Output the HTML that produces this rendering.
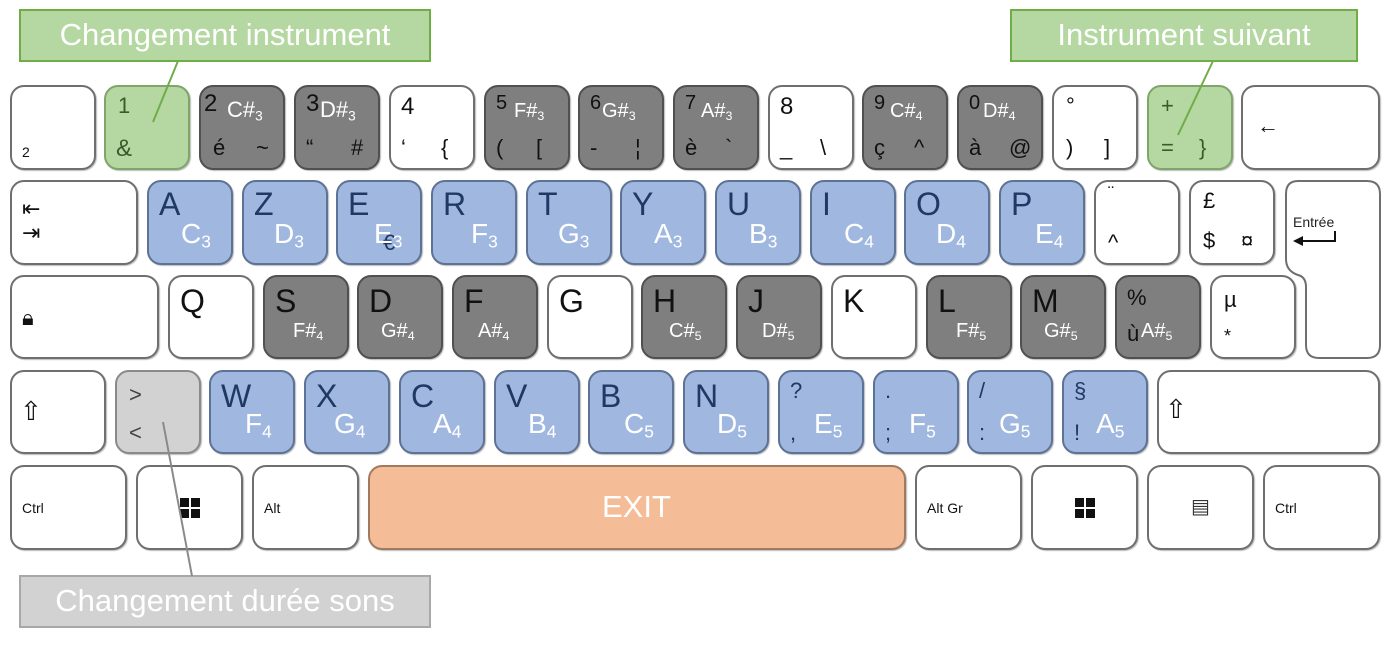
<!DOCTYPE html>
<html><head><meta charset="utf-8"><style>
body{margin:0;width:1390px;height:646px;background:#fff;position:relative;overflow:hidden;font-family:"Liberation Sans","DejaVu Sans",sans-serif}
.k{position:absolute;box-sizing:border-box;border:2px solid #6f6f6f;border-radius:14px;background:#fff;box-shadow:1px 1px 1px #bbb}
.blue{background:#a0b8e0;border-color:#5d7295}
.dark{background:#7f7f7f;border-color:#505050}
.green{background:#b5d7a2;border-color:#7fa56a}
.lg{background:#d2d2d2;border-color:#8a8a8a}
.org{background:#f4bc97;border-color:#a07a60}
.t{position:absolute;white-space:nowrap;line-height:1}
.note{position:absolute;color:#fff;white-space:nowrap;line-height:1}
.note sub{font-size:0.62em;vertical-align:-0.25em}
.call{position:absolute;box-sizing:border-box;color:#fff;font-size:31px;text-align:center;line-height:48px}
.win{position:absolute;width:20px;height:20px;display:grid;grid-template-columns:9px 9px;grid-gap:2px}
.win i{background:#111;display:block}
</style></head><body>
<div id="kb"></div>
<div class="call" style="left:19px;top:9px;width:412px;height:53px;background:#b5d7a2;border:2px solid #70ad47">Changement instrument</div>
<div class="call" style="left:1010px;top:9px;width:348px;height:53px;background:#b5d7a2;border:2px solid #70ad47">Instrument suivant</div>
<div class="call" style="left:19px;top:575px;width:412px;height:53px;background:#d2d2d2;border:2px solid #a8a8a8">Changement durée sons</div>
<svg width="1390" height="646" style="position:absolute;left:0;top:0;pointer-events:none">
<line x1="178" y1="61" x2="153" y2="122" stroke="#70ad47" stroke-width="2"/>
<line x1="1213" y1="61" x2="1178" y2="135" stroke="#70ad47" stroke-width="2"/>
<line x1="192" y1="576" x2="163" y2="422" stroke="#8a8a8a" stroke-width="2"/>
</svg>
<script>
const keys=[
[10,85,86,85,'','key-superscript2',[[10,58,14,'2']]],
[104,85,86,85,'green','key-1',[[12,8,22,'1','#3a5a2a'],[10,50,24,'&','#3a5a2a']]],
[199,85,86,85,'dark','key-2',[[3,5,24,'2','#111'],[12,50,22,'é','#111'],[55,50,22,'~','#111']],'C#<sub>3</sub>',[26,12,22]],
[294,85,86,85,'dark','key-3',[[10,5,24,'3','#111'],[10,50,22,'“','#111'],[55,50,22,'#','#111']],'D#<sub>3</sub>',[24,12,22]],
[389,85,86,85,'','key-4',[[10,8,24,'4'],[10,50,22,'‘'],[50,50,22,'{']]],
[484,85,86,85,'dark','key-5',[[10,6,20,'5','#111'],[10,50,22,'(','#111'],[50,50,22,'[','#111']],'F#<sub>3</sub>',[28,14,20]],
[578,85,86,85,'dark','key-6',[[10,6,20,'6','#111'],[10,50,22,'-','#111'],[55,50,22,'¦','#111']],'G#<sub>3</sub>',[22,14,20]],
[673,85,86,85,'dark','key-7',[[10,6,20,'7','#111'],[10,50,22,'è','#111'],[50,50,22,'`','#111']],'A#<sub>3</sub>',[26,14,20]],
[768,85,86,85,'','key-8',[[10,8,24,'8'],[10,50,22,'_'],[50,50,22,'\\']]],
[862,85,86,85,'dark','key-9',[[10,6,20,'9','#111'],[10,50,22,'ç','#111'],[50,50,22,'^','#111']],'C#<sub>4</sub>',[26,14,20]],
[957,85,86,85,'dark','key-0',[[10,6,20,'0','#111'],[10,50,22,'à','#111'],[50,50,22,'@','#111']],'D#<sub>4</sub>',[24,14,20]],
[1052,85,86,85,'','key-degree',[[12,8,22,'°'],[12,50,22,')'],[50,50,22,']']]],
[1147,85,86,85,'green','key-plus',[[12,8,22,'+','#3a5a2a'],[12,50,22,'=','#3a5a2a'],[50,50,22,'}','#3a5a2a']]],
[1241,85,139,85,'','key-backspace',[[14,28,22,'←']]],
[10,180,128,85,'','key-tab',[[10,16,22,'⇤'],[10,40,22,'⇥']]],
[147,180,86,85,'blue','key-a',[[10,6,32,'A','#1f3864']],'C<sub>3</sub>',[32,38,28]],
[242,180,86,85,'blue','key-z',[[10,6,32,'Z','#1f3864']],'D<sub>3</sub>',[30,38,28]],
[336,180,86,85,'blue','key-e',[[10,6,32,'E','#1f3864'],[45,50,22,'€','#1f3864']],'E<sub>3</sub>',[36,38,28]],
[431,180,86,85,'blue','key-r',[[10,6,32,'R','#1f3864']],'F<sub>3</sub>',[38,38,28]],
[526,180,86,85,'blue','key-t',[[10,6,32,'T','#1f3864']],'G<sub>3</sub>',[30,38,28]],
[620,180,86,85,'blue','key-y',[[10,6,32,'Y','#1f3864']],'A<sub>3</sub>',[32,38,28]],
[715,180,86,85,'blue','key-u',[[10,6,32,'U','#1f3864']],'B<sub>3</sub>',[32,38,28]],
[810,180,86,85,'blue','key-i',[[10,6,32,'I','#1f3864']],'C<sub>4</sub>',[32,38,28]],
[904,180,86,85,'blue','key-o',[[10,6,32,'O','#1f3864']],'D<sub>4</sub>',[30,38,28]],
[999,180,86,85,'blue','key-p',[[10,6,32,'P','#1f3864']],'E<sub>4</sub>',[34,38,28]],
[1094,180,86,85,'','key-circumflex',[[12,2,18,'¨'],[12,50,22,'^']]],
[1189,180,86,85,'','key-pound',[[12,8,22,'£'],[12,48,22,'$'],[50,48,22,'¤']]],
[10,275,149,84,'','key-capslock',[[10,30,22,'🔒︎']]],
[168,275,86,84,'','key-q',[[10,8,32,'Q']]],
[263,275,86,84,'dark','key-s',[[10,8,32,'S','#111']],'F#<sub>4</sub>',[28,44,20]],
[357,275,86,84,'dark','key-d',[[10,8,32,'D','#111']],'G#<sub>4</sub>',[22,44,20]],
[452,275,86,84,'dark','key-f',[[10,8,32,'F','#111']],'A#<sub>4</sub>',[24,44,20]],
[547,275,86,84,'','key-g',[[10,8,32,'G']]],
[641,275,86,84,'dark','key-h',[[10,8,32,'H','#111']],'C#<sub>5</sub>',[26,44,20]],
[736,275,86,84,'dark','key-j',[[10,8,32,'J','#111']],'D#<sub>5</sub>',[24,44,20]],
[831,275,86,84,'','key-k',[[10,8,32,'K']]],
[926,275,86,84,'dark','key-l',[[10,8,32,'L','#111']],'F#<sub>5</sub>',[28,44,20]],
[1020,275,86,84,'dark','key-m',[[10,8,32,'M','#111']],'G#<sub>5</sub>',[22,44,20]],
[1115,275,86,84,'dark','key-percent',[[10,10,22,'%','#111'],[10,46,22,'ù','#111']],'A#<sub>5</sub>',[24,44,20]],
[1210,275,86,84,'','key-mu',[[12,12,22,'µ'],[12,50,18,'*']]],
[10,370,96,84,'','key-shift-left',[[8,26,26,'⇧']]],
[115,370,86,84,'lg','key-less-than',[[12,12,22,'>','#444'],[12,50,22,'<','#444']]],
[209,370,86,84,'blue','key-w',[[10,8,32,'W','#1f3864']],'F<sub>4</sub>',[34,38,28]],
[304,370,86,84,'blue','key-x',[[10,8,32,'X','#1f3864']],'G<sub>4</sub>',[28,38,28]],
[399,370,86,84,'blue','key-c',[[10,8,32,'C','#1f3864']],'A<sub>4</sub>',[32,38,28]],
[494,370,86,84,'blue','key-v',[[10,8,32,'V','#1f3864']],'B<sub>4</sub>',[32,38,28]],
[588,370,86,84,'blue','key-b',[[10,8,32,'B','#1f3864']],'C<sub>5</sub>',[34,38,28]],
[683,370,86,84,'blue','key-n',[[10,8,32,'N','#1f3864']],'D<sub>5</sub>',[32,38,28]],
[778,370,86,84,'blue','key-question',[[10,8,22,'?','#1f3864'],[10,50,22,',','#1f3864']],'E<sub>5</sub>',[34,38,28]],
[873,370,86,84,'blue','key-period',[[10,8,22,'.','#1f3864'],[10,50,22,';','#1f3864']],'F<sub>5</sub>',[34,38,28]],
[967,370,86,84,'blue','key-slash',[[10,8,22,'/','#1f3864'],[10,50,22,':','#1f3864']],'G<sub>5</sub>',[30,38,28]],
[1062,370,86,84,'blue','key-section',[[10,8,22,'§','#1f3864'],[10,50,22,'!','#1f3864']],'A<sub>5</sub>',[32,38,28]],
[1157,370,223,84,'','key-shift-right',[[6,24,26,'⇧']]],
[10,465,117,85,'','key-ctrl-left',[[10,34,14,'Ctrl']]],
[136,465,107,85,'','key-win-left',[],null,null,true],
[252,465,107,85,'','key-alt',[[10,34,14,'Alt']]],
[368,465,538,85,'org','key-space-exit',[[232,24,31,'EXIT','#fff']]],
[915,465,107,85,'','key-altgr',[[10,34,14,'Alt Gr']]],
[1031,465,107,85,'','key-win-right',[],null,null,true],
[1147,465,107,85,'','key-menu',[[42,30,20,'▤','#333']]],
[1263,465,117,85,'','key-ctrl-right',[[10,34,14,'Ctrl']]]
];
const kb=document.getElementById('kb');
for(const k of keys){
  const d=document.createElement('div');
  d.className='k '+k[4];
  d.style.cssText=`left:${k[0]}px;top:${k[1]}px;width:${k[2]}px;height:${k[3]}px`;
  
  
  for(const l of k[6]){
    const s=document.createElement('span');
    s.className='t';
    s.style.cssText=`left:${l[0]}px;top:${l[1]}px;font-size:${l[2]}px;color:${l[4]||'#111'}`;
    s.textContent=l[3];
    
    
    d.appendChild(s);
  }
  if(k[9]){
    const w=document.createElement('div');
    w.className='win';
    w.style.left='42px';w.style.top='31px';
    w.innerHTML='<i></i><i></i><i></i><i></i>';
    
    
    d.appendChild(w);
  }
  if(k[7]){
    const n=document.createElement('span');
    n.className='note';
    n.style.cssText=`left:${k[8][0]}px;top:${k[8][1]}px;font-size:${k[8][2]}px`;
    n.innerHTML=k[7];
    
    
    d.appendChild(n);
  }
  kb.appendChild(d);
}
const e=document.createElement('div');
e.innerHTML='<svg width="100" height="182" style="position:absolute;left:1283px;top:179px"><path d="M15 2 H84 Q97 2 97 15 V166 Q97 179 84 179 H36 Q23 179 23 166 V108 Q23 98 15 96 Q3 92 3 80 V15 Q3 2 15 2 Z" fill="#fff" stroke="#6f6f6f" stroke-width="2"/><text x="10" y="48" font-size="14" fill="#222" font-family="Liberation Sans, sans-serif">Entrée</text><path d="M52 52 V62 H14" fill="none" stroke="#111" stroke-width="2"/><path d="M10 62 L20 57 L20 67 Z" fill="#111"/></svg>';


kb.appendChild(e);
</script>
</body></html>
